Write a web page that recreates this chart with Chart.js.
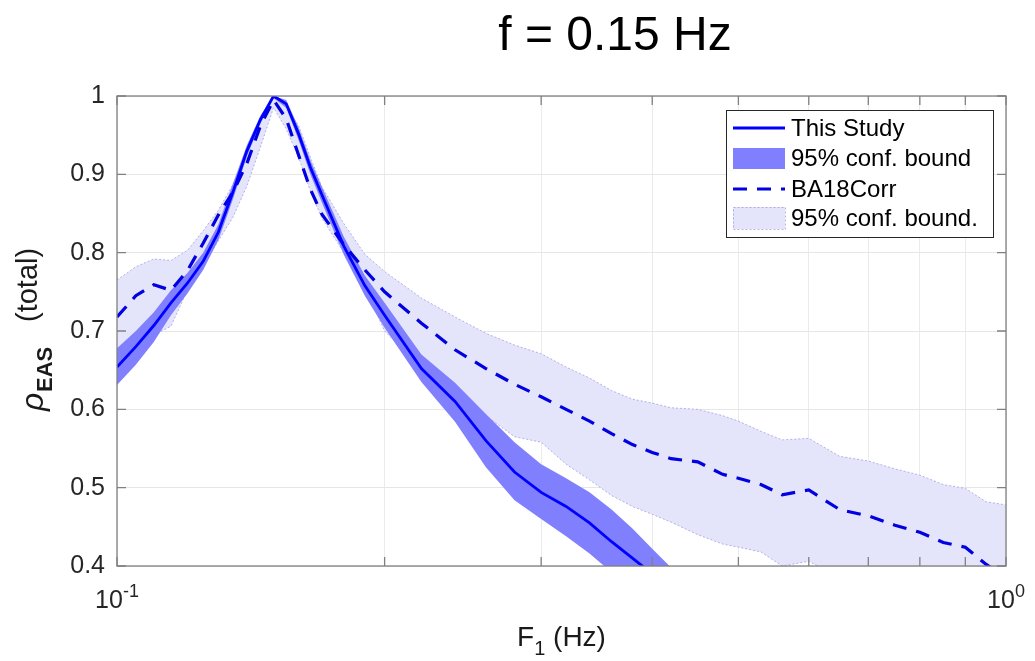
<!DOCTYPE html>
<html>
<head>
<meta charset="utf-8">
<script src="https://cdn.jsdelivr.net/npm/chart.js@4.4.0/dist/chart.umd.min.js"></script>
<style>
  html, body { margin: 0; padding: 0; background: #fff; }
  #wrap { width: 1035px; height: 661px; }
</style>
</head>
<body>
<div id="wrap"><canvas id="myChart" width="1035" height="661"></canvas></div>
<script>
// frequencies F1 (Hz)
const studyFreq = [0.1, 0.105, 0.11, 0.115, 0.12, 0.125, 0.13, 0.135, 0.14, 0.145, 0.15, 0.155, 0.16, 0.165, 0.17,
  0.18, 0.19, 0.2, 0.22, 0.24, 0.26, 0.28, 0.3, 0.32, 0.34, 0.36, 0.38, 0.4, 0.42, 0.45];
const baFreq = [0.1, 0.105, 0.11, 0.115, 0.12, 0.125, 0.13, 0.135, 0.14, 0.145, 0.15, 0.155, 0.16, 0.165, 0.17,
  0.18, 0.19, 0.2, 0.22, 0.24, 0.26, 0.28, 0.3, 0.32, 0.34, 0.36, 0.38, 0.4, 0.42, 0.45, 0.48, 0.5,
  0.53, 0.56, 0.6, 0.65, 0.7, 0.75, 0.8, 0.85, 0.9, 0.95, 1.0];

// This Study
const studyMean = [0.654, 0.680, 0.707, 0.736, 0.761, 0.789, 0.826, 0.877, 0.930, 0.970, 1.000, 0.990, 0.952, 0.909, 0.874,
  0.808, 0.758, 0.720, 0.652, 0.610, 0.560, 0.520, 0.494, 0.476, 0.455, 0.431, 0.410, 0.390, 0.370, 0.340];
const studyLo = [0.631, 0.657, 0.686, 0.720, 0.748, 0.778, 0.816, 0.868, 0.923, 0.965, 0.997, 0.985, 0.944, 0.900, 0.864,
  0.797, 0.745, 0.704, 0.635, 0.584, 0.526, 0.484, 0.460, 0.438, 0.416, 0.392, 0.370, 0.350, 0.330, 0.300];
const studyHi = [0.678, 0.700, 0.724, 0.752, 0.774, 0.800, 0.836, 0.888, 0.937, 0.975, 1.000, 0.995, 0.960, 0.918, 0.884,
  0.820, 0.771, 0.736, 0.670, 0.634, 0.594, 0.558, 0.530, 0.512, 0.494, 0.472, 0.448, 0.422, 0.398, 0.368];

// BA18Corr
const baMean = [0.718, 0.745, 0.759, 0.752, 0.777, 0.812, 0.848, 0.877, 0.914, 0.962, 0.995, 0.971, 0.925, 0.881, 0.849,
  0.810, 0.778, 0.750, 0.710, 0.676, 0.652, 0.632, 0.616, 0.600, 0.585, 0.569, 0.555, 0.545, 0.537, 0.533, 0.517, 0.512,
  0.504, 0.491, 0.497, 0.472, 0.464, 0.452, 0.443, 0.430, 0.424, 0.402, 0.385];
const baLo = [0.665, 0.685, 0.695, 0.706, 0.752, 0.784, 0.815, 0.845, 0.885, 0.935, 0.985, 0.958, 0.922, 0.879, 0.844,
  0.800, 0.755, 0.700, 0.652, 0.620, 0.592, 0.565, 0.558, 0.530, 0.510, 0.490, 0.476, 0.466, 0.456, 0.440, 0.428, 0.424,
  0.418, 0.400, 0.406, 0.385, 0.378, 0.370, 0.365, 0.360, 0.355, 0.350, 0.345];
const baHi = [0.765, 0.782, 0.792, 0.790, 0.803, 0.828, 0.854, 0.887, 0.927, 0.967, 1.000, 0.985, 0.963, 0.922, 0.884,
  0.837, 0.798, 0.776, 0.742, 0.718, 0.697, 0.682, 0.671, 0.654, 0.640, 0.624, 0.613, 0.608, 0.602, 0.600, 0.592, 0.585,
  0.572, 0.561, 0.563, 0.540, 0.534, 0.524, 0.516, 0.504, 0.499, 0.482, 0.478];

const xTicks = [0.1, 0.2, 0.3, 0.4, 0.5, 0.6, 0.7, 0.8, 0.9, 1];
const yTicks = [0.4, 0.5, 0.6, 0.7, 0.8, 0.9, 1];
const legendLabels = ['This Study', '95% conf. bound', 'BA18Corr', '95% conf. bound.'];

const FONT = '"Liberation Sans", Arial, Helvetica, sans-serif';
const BLUE = '#0000ff';
const DASH_BLUE = '#0000e0';
const DARK_FILL = '#8080ff';
const LIGHT_FILL = '#e4e4fb';
const LIGHT_EDGE = 'rgba(150,150,225,0.7)';

function pts(xs, ys) {
  return xs.map((x, i) => ({ x: x, y: ys[i] }));
}

// matlab style box, inward ticks, legend and text
const matlabLook = {
  id: 'matlabLook',
  afterDatasetsDraw(chart) {
    const { ctx, chartArea: a, scales } = chart;
    ctx.save();
    ctx.strokeStyle = '#808080';
    ctx.lineWidth = 1.3;
    ctx.strokeRect(a.left, a.top, a.right - a.left, a.bottom - a.top);
    const tl = 9;
    ctx.beginPath();
    xTicks.forEach(v => {
      const px = scales.x.getPixelForValue(v);
      ctx.moveTo(px, a.bottom); ctx.lineTo(px, a.bottom - tl);
      ctx.moveTo(px, a.top); ctx.lineTo(px, a.top + tl);
    });
    yTicks.forEach(v => {
      const py = scales.y.getPixelForValue(v);
      ctx.moveTo(a.left, py); ctx.lineTo(a.left + tl, py);
      ctx.moveTo(a.right, py); ctx.lineTo(a.right - tl, py);
    });
    ctx.stroke();
    ctx.restore();
  },
  afterDraw(chart) {
    const { ctx, chartArea: a, scales } = chart;
    ctx.save();
    ctx.fillStyle = '#262626';
    ctx.textBaseline = 'alphabetic';
    ctx.textAlign = 'left';

    // x tick labels 10^-1 and 10^0
    [[0.1, '-1'], [1, '0']].forEach(([v, e]) => {
      const px = scales.x.getPixelForValue(v);
      ctx.font = '25px ' + FONT;
      const w1 = ctx.measureText('10').width;
      ctx.font = '18px ' + FONT;
      const w2 = ctx.measureText(e).width;
      const x0 = px - (w1 + w2) / 2;
      ctx.font = '25px ' + FONT;
      ctx.fillText('10', x0, a.bottom + 42);
      ctx.font = '18px ' + FONT;
      ctx.fillText(e, x0 + w1, a.bottom + 31);
    });

    // x axis label
    ctx.fillStyle = '#1a1a1a';
    const cx = (a.left + a.right) / 2;
    ctx.font = '28px ' + FONT;
    const wF = ctx.measureText('F').width;
    const wRest = ctx.measureText(' (Hz)').width;
    ctx.font = '20px ' + FONT;
    const wSub = ctx.measureText('1').width;
    let x0 = cx - (wF + wSub + wRest) / 2;
    ctx.font = '28px ' + FONT;
    ctx.fillText('F', x0, a.bottom + 80);
    ctx.font = '20px ' + FONT;
    ctx.fillText('1', x0 + wF, a.bottom + 89);
    ctx.font = '28px ' + FONT;
    ctx.fillText(' (Hz)', x0 + wF + wSub, a.bottom + 80);

    // y axis label
    const pieces = [
      ['italic 32px ' + FONT, '\u03c1', 43, 411],
      ['bold 22px ' + FONT, 'EAS', 52, 392],
      ['29px ' + FONT, '(total)', 37, 322]
    ];
    pieces.forEach(([f, t, bx, by]) => {
      ctx.save();
      ctx.translate(bx, by);
      ctx.rotate(-Math.PI / 2);
      ctx.font = f;
      ctx.fillText(t, 0, 0);
      ctx.restore();
    });

    // title
    ctx.fillStyle = '#000';
    ctx.font = '48px ' + FONT;
    ctx.textAlign = 'center';
    ctx.fillText('f = 0.15 Hz', 615, 50);

    // legend box
    const lx = a.right - 280, ly = a.top + 14, lw = 267, lh = 127;
    ctx.fillStyle = '#fff';
    ctx.fillRect(lx, ly, lw, lh);
    ctx.strokeStyle = '#262626';
    ctx.lineWidth = 1;
    ctx.strokeRect(lx + 0.5, ly + 0.5, lw, lh);
    const sx0 = lx + 7, sx1 = lx + 59;
    const rows = [ly + 18, ly + 48, ly + 79, ly + 108];

    ctx.strokeStyle = BLUE;
    ctx.lineWidth = 3;
    ctx.beginPath(); ctx.moveTo(sx0, rows[0]); ctx.lineTo(sx1, rows[0]); ctx.stroke();

    ctx.fillStyle = DARK_FILL;
    ctx.fillRect(sx0, rows[1] - 10, sx1 - sx0, 21);

    ctx.setLineDash([14, 10]);
    ctx.strokeStyle = DASH_BLUE;
    ctx.lineWidth = 3.2;
    ctx.beginPath(); ctx.moveTo(sx0, rows[2]); ctx.lineTo(sx1, rows[2]); ctx.stroke();

    ctx.fillStyle = LIGHT_FILL;
    ctx.fillRect(sx0, rows[3] - 11, sx1 - sx0, 22);
    ctx.setLineDash([2, 2]);
    ctx.strokeStyle = LIGHT_EDGE;
    ctx.lineWidth = 1;
    ctx.strokeRect(sx0 + 0.5, rows[3] - 10.5, sx1 - sx0, 22);
    ctx.setLineDash([]);

    ctx.fillStyle = '#000';
    ctx.font = '24px ' + FONT;
    ctx.textAlign = 'left';
    ctx.textBaseline = 'middle';
    legendLabels.forEach((t, i) => ctx.fillText(t, sx1 + 6, rows[i] + 1));
    ctx.restore();
  }
};

const ctx = document.getElementById('myChart').getContext('2d');
const myChart = new Chart(ctx, {
  type: 'line',
  data: {
    datasets: [
      { label: 'baLo', data: pts(baFreq, baLo), borderColor: LIGHT_EDGE, borderWidth: 1, borderDash: [2, 2],
        fill: false, pointRadius: 0, order: 4 },
      { label: 'baHi', data: pts(baFreq, baHi), borderColor: LIGHT_EDGE, borderWidth: 1, borderDash: [2, 2],
        backgroundColor: LIGHT_FILL, fill: 0, pointRadius: 0, order: 4 },
      { label: 'studyLo', data: pts(studyFreq, studyLo), borderWidth: 0, borderColor: 'rgba(0,0,0,0)',
        fill: false, pointRadius: 0, order: 3 },
      { label: 'studyHi', data: pts(studyFreq, studyHi), borderWidth: 0, borderColor: 'rgba(0,0,0,0)',
        backgroundColor: DARK_FILL, fill: 2, pointRadius: 0, order: 3 },
      { label: 'BA18Corr', data: pts(baFreq, baMean), borderColor: DASH_BLUE, borderWidth: 3.2,
        borderDash: [14, 10], fill: false, pointRadius: 0, order: 1 },
      { label: 'This Study', data: pts(studyFreq, studyMean), borderColor: BLUE, borderWidth: 2.8,
        fill: false, pointRadius: 0, order: 0 }
    ]
  },
  options: {
    responsive: false,
    animation: false,
    devicePixelRatio: 1,
    layout: { padding: { top: 96, right: 29, left: 0, bottom: 0 } },
    elements: { line: { tension: 0 } },
    plugins: {
      legend: { display: false },
      tooltip: { enabled: false },
      title: { display: false }
    },
    scales: {
      x: {
        type: 'logarithmic',
        min: 0.1,
        max: 1,
        afterBuildTicks: s => { s.ticks = xTicks.map(v => ({ value: v })); },
        afterFit: s => { s.height = 95; },
        ticks: { display: false },
        grid: { color: '#ebebeb', lineWidth: 1, drawTicks: false },
        border: { display: false }
      },
      y: {
        type: 'linear',
        min: 0.4,
        max: 1,
        afterBuildTicks: s => { s.ticks = yTicks.map(v => ({ value: v })); },
        afterFit: s => { s.width = 117; },
        ticks: {
          padding: 12,
          color: '#262626',
          font: { size: 25, family: FONT },
          callback: v => (v === 1 ? '1' : v.toFixed(1))
        },
        grid: { color: '#e6e6e6', lineWidth: 1, drawTicks: false },
        border: { display: false }
      }
    }
  },
  plugins: [matlabLook]
});
</script>
</body>
</html>
